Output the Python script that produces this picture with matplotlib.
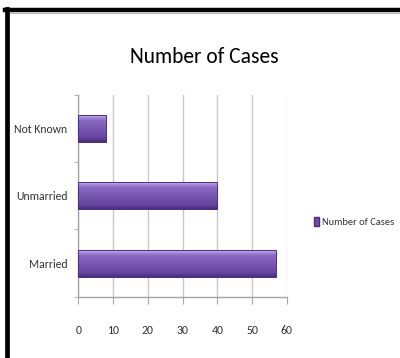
import numpy as np
import matplotlib
matplotlib.use("Agg")
import matplotlib.pyplot as plt
from matplotlib.colors import LinearSegmentedColormap
from matplotlib.lines import Line2D

# data
categories = ["Married", "Unmarried", "Not Known"]
cases = [57, 40, 8]
x_ticks = [0, 10, 20, 30, 40, 50, 60]
series_name = "Number of Cases"

plt.rcParams['font.family'] = ['Carlito', 'DejaVu Sans']

fig = plt.figure(figsize=(4.0, 3.58), dpi=100)
ax = fig.add_axes([0.196, 0.171, 0.521, 0.564])

bar_h = 0.4
# vertical gradient: dark bottom, purple body, light top edge
grad = LinearSegmentedColormap.from_list(
    "bar", [(0.0, "#4a2c7c"), (0.15, "#6545a0"), (0.5, "#7958b2"),
            (0.8, "#8a69c4"), (0.9, "#a285d8"), (1.0, "#cdb6f2")])
g = np.linspace(0, 1, 64).reshape(-1, 1)

ypos = np.arange(len(categories))
for y, v in zip(ypos, cases):
    ax.imshow(g, cmap=grad, origin="lower", aspect="auto",
              extent=(0, v, y - bar_h / 2, y + bar_h / 2), zorder=3)

bars = ax.barh(ypos, cases, height=bar_h, facecolor="none",
               edgecolor="#4a2c7c", linewidth=0.7, zorder=4)

ax.set_xlim(0, 60)
ax.set_ylim(-0.5, len(categories) - 0.5)
ax.set_xticks(x_ticks)
ax.set_yticks(ypos)
ax.set_yticklabels(categories)
ax.set_yticks(np.arange(-0.5, len(categories)), minor=True)

ax.grid(True, axis="x", color="#c8c8c8", linewidth=1, zorder=0)
ax.set_axisbelow(True)
for s in ["top", "right"]:
    ax.spines[s].set_visible(False)
for s in ["left", "bottom"]:
    ax.spines[s].set_color("#a6a6a6")
    ax.spines[s].set_linewidth(1)

ax.tick_params(axis="x", length=5, color="#a6a6a6", pad=15,
               labelsize=8.5, labelcolor="#333333")
ax.tick_params(axis="y", which="major", length=0, pad=8,
               labelsize=8.5, labelcolor="#333333")
ax.tick_params(axis="y", which="minor", length=3, color="#a6a6a6")

fig.text(0.512, 0.824, series_name, ha="center", va="baseline",
         fontsize=15.5, color="#000000")

# legend handle in the bar colour
handle = plt.Rectangle((0, 0), 1, 1, facecolor="#6f4ea8", edgecolor="#4a2c7c")
fig.legend([handle], [series_name], loc="center left",
           bbox_to_anchor=(0.772, 0.38), frameon=False, fontsize=7.5,
           handlelength=0.45, handleheight=0.9, handletextpad=0.3,
           borderpad=0, labelcolor="#333333")

# black frame on top and left, like the pasted screenshot
fig.add_artist(Line2D([0.0125, 1.0], [0.972, 0.972], color="black",
                      linewidth=3.2, transform=fig.transFigure))
fig.add_artist(Line2D([0.0125, 1.0], [0.963, 0.963], color="#bbbbbb",
                      linewidth=0.8, transform=fig.transFigure))
fig.add_artist(Line2D([0.018, 0.018], [0.0, 0.976], color="black",
                      linewidth=3.4, transform=fig.transFigure))

fig.savefig("out.png", dpi=100)
